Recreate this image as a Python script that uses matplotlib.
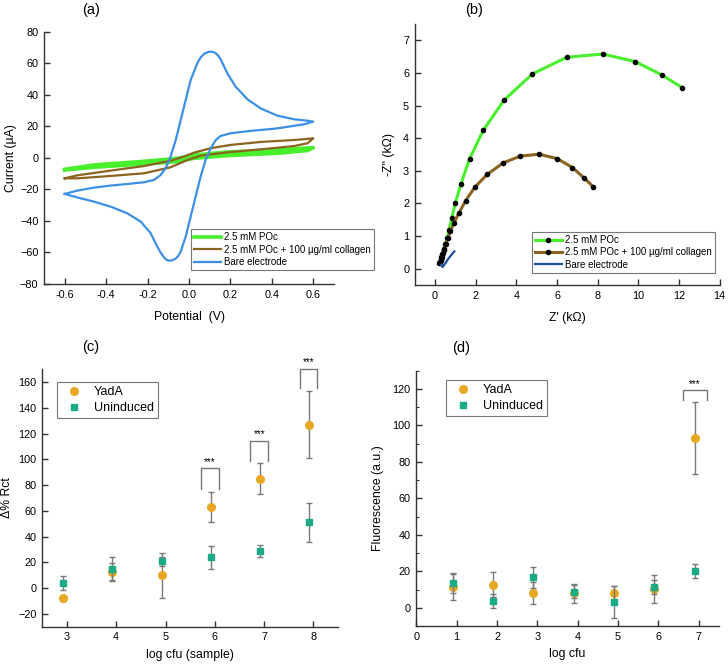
import matplotlib
matplotlib.use('Agg')
import matplotlib.pyplot as plt
import numpy as np

plt.rcParams['font.family'] = ['Liberation Sans', 'DejaVu Sans']

# ---- (a) cyclic voltammetry ----
cv_bare_x = [-0.6, -0.539, -0.459, -0.378, -0.298, -0.217, -0.169, -0.137, -0.113, -0.089, -0.064,
             -0.040, -0.016, 0.008, 0.040, 0.056, 0.072, 0.090, 0.105, 0.117, 0.129, 0.141, 0.153,
             0.168, 0.185, 0.225, 0.282, 0.346, 0.426, 0.507, 0.571, 0.6,
             0.555, 0.426, 0.298, 0.201, 0.153, 0.129, 0.105, 0.080, 0.056, 0.032, 0.008, -0.016,
             -0.040, -0.052, -0.064, -0.080, -0.097, -0.110, -0.121, -0.137, -0.153, -0.185,
             -0.233, -0.298, -0.378, -0.459, -0.523, -0.571, -0.6]
cv_bare_y = [-22.8, -20.7, -18.8, -17.5, -16.5, -15.4, -13.9, -10.8, -6.5, 0.9, 11.4,
             24.1, 36.8, 49.5, 60.1, 63.8, 66.0, 67.2, 67.5, 67.3, 66.5, 65.0, 62.6,
             58.5, 53.8, 45.3, 37.3, 31.5, 26.9, 24.6, 23.7, 23.1,
             21.4, 18.8, 17.2, 15.7, 14.0, 11.4, 6.2, -1.3, -11.8, -24.5, -37.2, -49.9,
             -59.4, -62.2, -63.9, -64.9, -65.2, -64.5, -63.0, -60.0, -56.3, -47.8,
             -40.4, -35.1, -30.9, -27.7, -25.6, -23.9, -22.8]
cv_coll_x = [-0.6, -0.539, -0.378, -0.217, -0.089, -0.024, 0.024, 0.105, 0.201, 0.346, 0.507, 0.6,
             0.571, 0.507, 0.346, 0.185, 0.056, -0.008, -0.089, -0.217, -0.378, -0.539, -0.6]
cv_coll_y = [-12.9, -11.0, -8.0, -5.1, -1.7, 0.9, 3.4, 6.2, 8.3, 10.2, 11.4, 12.5,
             9.3, 7.6, 5.5, 3.6, 1.5, -1.3, -5.9, -9.7, -11.4, -12.9, -12.9]
cv_poc_x = [-0.6, -0.459, -0.217, -0.056, 0.024, 0.185, 0.426, 0.6,
            0.571, 0.426, 0.185, 0.024, -0.056, -0.217, -0.459, -0.6]
cv_poc_y = [-7.2, -4.4, -2.1, -0.2, 1.9, 3.8, 5.1, 6.6,
            4.7, 3.0, 1.5, -0.2, -2.3, -3.8, -5.9, -7.6]

# ---- (b) Nyquist ----
nyq_poc_x = [0.21, 0.24, 0.27, 0.31, 0.36, 0.42, 0.50, 0.59, 0.69, 0.82, 1.00, 1.28, 1.70,
             2.37, 3.40, 4.79, 6.48, 8.25, 9.84, 11.15, 12.16]
nyq_poc_y = [0.17, 0.20, 0.27, 0.35, 0.45, 0.58, 0.75, 0.94, 1.19, 1.55, 2.01, 2.61, 3.37,
             4.24, 5.17, 5.97, 6.48, 6.58, 6.35, 5.94, 5.55]
nyq_coll_x = [0.26, 0.29, 0.33, 0.38, 0.45, 0.52, 0.62, 0.75, 0.93, 1.18, 1.50, 1.96, 2.57,
              3.34, 4.19, 5.12, 6.02, 6.76, 7.33, 7.78]
nyq_coll_y = [0.20, 0.27, 0.36, 0.47, 0.60, 0.75, 0.93, 1.14, 1.40, 1.71, 2.08, 2.50, 2.89,
              3.24, 3.45, 3.51, 3.37, 3.10, 2.78, 2.51]
nyq_bare_x = [0.30, 0.37, 0.50, 0.65, 0.80, 0.95]
nyq_bare_y = [0.12, 0.05, 0.16, 0.30, 0.42, 0.53]

# ---- (c) delta % Rct ----
c_x = [3, 4, 5, 6, 7, 8]
c_yada = [-8, 12.5, 10, 63, 85, 127]
c_yada_err = [2, 7, 17.5, 12, 12, 26]
c_unind = [4, 15, 21, 24, 29, 51]
c_unind_err = [5.2, 9, 3.5, 9, 4.5, 15.5]
c_sig_x = [6, 7, 8]
c_sig_low = [77, 99, 155.5]
c_sig_high = [93, 114.5, 170.5]

# ---- (d) fluorescence ----
d_x = [1, 2, 3, 4, 5, 6, 7]
d_yada = [11.5, 12.6, 8.2, 7.9, 8.2, 10.4, 93]
d_yada_err = [7, 6.8, 6, 5.1, 4, 7.8, 19.7]
d_unind = [13.5, 3.5, 16.8, 8.8, 3.1, 11.3, 20.3]
d_unind_err = [5.3, 3.8, 5.7, 3.5, 8.6, 4, 3.8]
d_sig_x = [7]
d_sig_low = [113.8]
d_sig_high = [119.3]

green = '#47f02a'
brown = '#8a6420'
blue = '#3d8fe6'
navy = '#1f4f9e'
orange = '#e8a823'
teal = '#1aaa86'
spine_c = '#333333'

fig = plt.figure(figsize=(7.28, 6.65), dpi=100)
W, H = 728, 665


def add_ax(l, r, t, b):
    return fig.add_axes([l / W, 1 - b / H, (r - l) / W, (b - t) / H])


def style(ax):
    for s in ['top', 'right']:
        ax.spines[s].set_visible(False)
    for s in ['left', 'bottom']:
        ax.spines[s].set_color(spine_c)
        ax.spines[s].set_linewidth(1.0)
    ax.tick_params(direction='in', length=4, width=1, color=spine_c, labelsize=7.8, pad=4)
    ax.tick_params(which='minor', direction='in', length=2.5, width=0.8, color=spine_c)


# (a)
ax1 = add_ax(44, 334, 32, 284)
style(ax1)
ax1.plot(cv_poc_x, cv_poc_y, color=green, lw=2.6, label='2.5 mM POc')
ax1.plot(cv_coll_x, cv_coll_y, color=brown, lw=1.6, label='2.5 mM POc + 100 µg/ml collagen')
ax1.plot(cv_bare_x, cv_bare_y, color=blue, lw=1.6, label='Bare electrode')
ax1.set_xlim(-0.7, 0.7)
ax1.set_ylim(-80, 80)
ax1.set_xticks(np.arange(-0.6, 0.61, 0.2))
ax1.set_xticklabels(['-0.6', '-0.4', '-0.2', '0.0', '0.2', '0.4', '0.6'])
ax1.set_yticks(np.arange(-80, 81, 20))
ax1.set_xlabel('Potential  (V)', fontsize=8.8, labelpad=8)
ax1.set_ylabel('Current (µA)', fontsize=8.8, labelpad=2)
leg = ax1.legend(loc='lower left', bbox_to_anchor=(0.507, 0.056), borderaxespad=0, fontsize=7,
                 frameon=True, fancybox=False, edgecolor='#555555', handlelength=2.8,
                 handletextpad=0.3, labelspacing=0.25, borderpad=0.3)
leg.get_frame().set_linewidth(0.8)

# (b)
ax2 = add_ax(414.7, 719.7, 24, 285)
style(ax2)
ax2.plot(nyq_poc_x, nyq_poc_y, color=green, lw=2.2, marker='o', ms=3, mfc='black', mec='black',
         label='2.5 mM POc')
ax2.plot(nyq_coll_x, nyq_coll_y, color=brown, lw=2.2, marker='o', ms=3, mfc='black', mec='black',
         label='2.5 mM POc + 100 µg/ml collagen')
ax2.plot(nyq_bare_x, nyq_bare_y, color=navy, lw=1.6, label='Bare electrode')
ax2.set_xlim(-1, 14)
ax2.set_ylim(-0.5, 7.5)
ax2.set_xticks(np.arange(0, 15, 2))
ax2.set_yticks(np.arange(0, 8, 1))
ax2.set_xlabel("Z' (kΩ)", fontsize=8.8, labelpad=8)
ax2.set_ylabel('-Z" (kΩ)', fontsize=8.8, labelpad=6)
leg = ax2.legend(loc='lower left', bbox_to_anchor=(0.384, 0.047), borderaxespad=0, fontsize=7,
                 frameon=True, fancybox=False, edgecolor='#555555', handlelength=2.8,
                 handletextpad=0.3, labelspacing=0.25, borderpad=0.3)
leg.get_frame().set_linewidth(0.8)


def sig(ax, xs, lows, highs, half):
    for x, lo, hi in zip(xs, lows, highs):
        xl, xr = x - 0.1 - half, x - 0.1 + half
        ax.plot([xl, xl, xr, xr], [lo, hi, hi, lo], color='#777777', lw=1.0, clip_on=False)
        ax.annotate('***', (x - 0.1, hi), xytext=(0, 1), textcoords='offset points',
                    ha='center', va='bottom', fontsize=7, annotation_clip=False)


def points(ax, xs, y1, e1, y2, e2, off):
    xo = np.array(xs) - off
    ax.errorbar(xo, y1, yerr=e1, fmt='o', ms=5.5, color=orange, ecolor='#7a7a7a',
                elinewidth=1, capsize=2, capthick=1, label='YadA', zorder=3)
    ax.errorbar(xo, y2, yerr=e2, fmt='s', ms=4.8, color=teal, ecolor='#7a7a7a',
                elinewidth=1, capsize=2, capthick=1, label='Uninduced', zorder=4)
    handles, labels = ax.get_legend_handles_labels()
    return [h[0] for h in handles], labels


# (c)
ax3 = add_ax(42.3, 338, 369.3, 626.7)
style(ax3)
hs, ls = points(ax3, c_x, c_yada, c_yada_err, c_unind, c_unind_err, 0.08)
sig(ax3, c_sig_x, c_sig_low, c_sig_high, 0.18)
ax3.set_xlim(2.5, 8.5)
ax3.set_ylim(-30, 170)
ax3.set_xticks(c_x)
ax3.set_yticks(np.arange(-20, 161, 20))
ax3.set_xlabel('log cfu (sample)', fontsize=8.8, labelpad=5)
ax3.set_ylabel('Δ% Rct', fontsize=8.8, labelpad=4)
leg = ax3.legend(hs, ls, loc='upper left', bbox_to_anchor=(0.05, 0.951), borderaxespad=0,
                 fontsize=9, frameon=True, fancybox=False, edgecolor='#555555',
                 handletextpad=0.6, labelspacing=0.3, borderpad=0.35)
leg.get_frame().set_linewidth(0.8)

# (d)
ax4 = add_ax(416.3, 719, 370.7, 626)
style(ax4)
hs, ls = points(ax4, d_x, d_yada, d_yada_err, d_unind, d_unind_err, 0.1)
sig(ax4, d_sig_x, d_sig_low, d_sig_high, 0.3)
ax4.set_xlim(0, 7.5)
ax4.set_ylim(-10, 130)
ax4.set_xticks(np.arange(0, 8, 1))
ax4.set_yticks(np.arange(0, 121, 20))
ax4.set_yticks(np.arange(-10, 131, 10), minor=True)
ax4.set_xlabel('log cfu', fontsize=8.8, labelpad=5)
ax4.set_ylabel('Fluorescence (a.u.)', fontsize=8.8, labelpad=6)
leg = ax4.legend(hs, ls, loc='upper left', bbox_to_anchor=(0.097, 0.964), borderaxespad=0,
                 fontsize=9, frameon=True, fancybox=False, edgecolor='#555555',
                 handletextpad=0.6, labelspacing=0.3, borderpad=0.35)
leg.get_frame().set_linewidth(0.8)

# panel labels
for txt, x, y in [('(a)', 91, 10), ('(b)', 474, 10), ('(c)', 91, 347), ('(d)', 461, 348)]:
    fig.text(x / W, 1 - y / H, txt, ha='center', va='center', fontsize=10.5)

fig.savefig('out.png', dpi=100)
